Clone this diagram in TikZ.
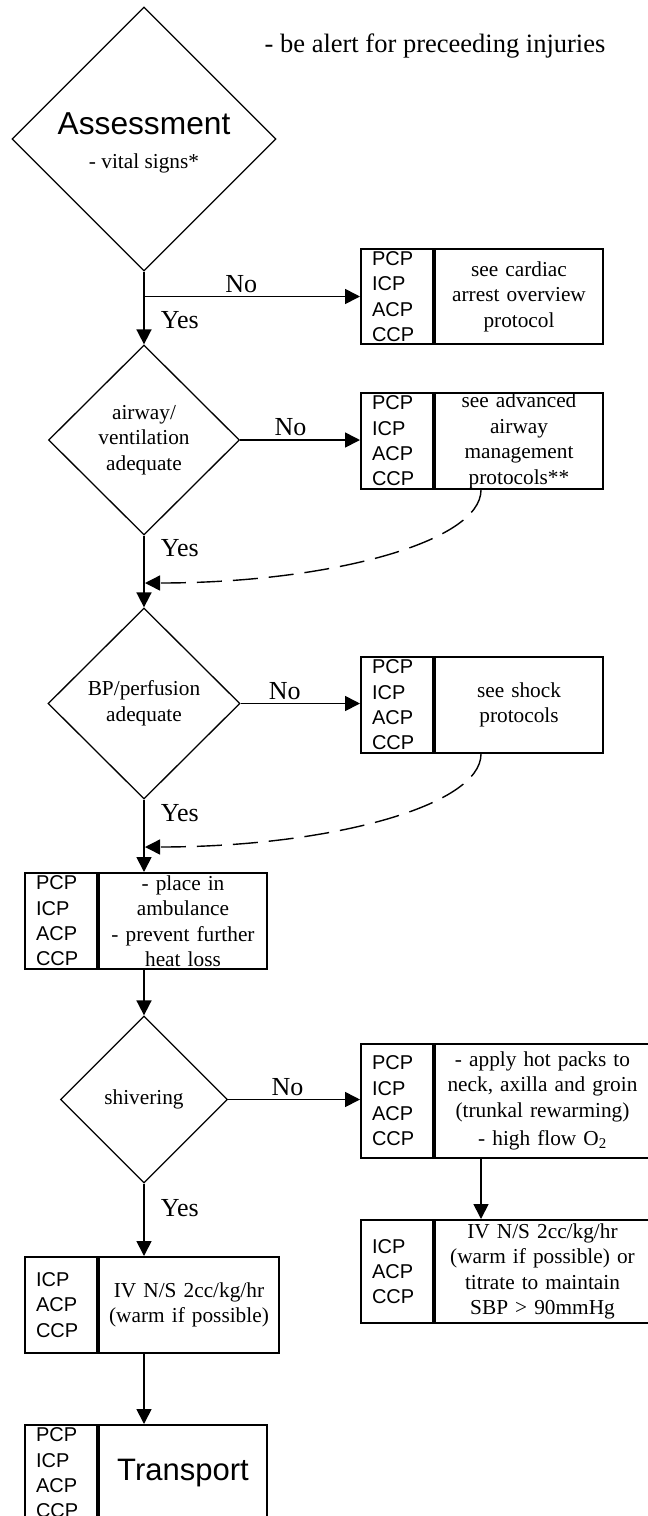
\documentclass[tikz,border=0pt]{standalone}
\usepackage{fontspec}
\setmainfont{Liberation Serif}
\newfontfamily\arialf{Liberation Sans}
\usetikzlibrary{shapes.geometric,arrows.meta}
\tikzset{
  dia/.style={diamond, draw, line width=1.3pt, inner sep=0pt, align=center, font=\fontsize{21.3}{25.5}\selectfont},
  rolebox/.style={draw, line width=2pt, anchor=north west, minimum width=72pt, text width=50pt, inner xsep=11pt, inner ysep=0pt, align=left, font=\arialf\fontsize{20}{25.3}\selectfont},
  txtbox/.style={draw, line width=2pt, anchor=north west, inner xsep=4pt, inner ysep=0pt, align=center, font=\fontsize{21.3}{25.5}\selectfont},
  flow/.style={line width=1.7pt, -{Triangle[length=15pt,width=15pt]}},
  backflow/.style={line width=1.4pt, dash pattern=on 25pt off 11pt, -{Triangle[length=15pt,width=15pt]}},
  lbl/.style={font=\fontsize{26}{30}\selectfont, inner sep=0pt},
}
\begin{document}
\begin{tikzpicture}[x=1pt,y=-1pt]
\path[use as bounding box, fill=white] (0,0) rectangle (648,1516);
\clip (0,0) rectangle (648,1516);

\node[font=\fontsize{26.5}{30}\selectfont] (note) at (435,46) {- be alert for preceeding injuries};

\node[dia, minimum width=264pt, minimum height=264pt] (d1) at (144,139)
  {\rule{0pt}{28.7pt}{\arialf\fontsize{31.7}{34}\selectfont Assessment}\\[8.5pt]- vital signs*};
\node[rolebox, minimum height=95pt] (cardL) at (360,248) {PCP\\ICP\\ACP\\CCP};
\node[txtbox, minimum width=168pt, text width=160pt, minimum height=95pt] (cardR) at (cardL.north east) {see cardiac\\arrest overview\\protocol};

\node[dia, minimum width=191pt, minimum height=190pt] (d2) at (144,440) {airway/\\ventilation\\adequate};
\node[rolebox, minimum height=96pt] (airL) at (360,392) {PCP\\ICP\\ACP\\CCP};
\node[txtbox, minimum width=168pt, text width=160pt, minimum height=96pt] (airR) at (airL.north east) {see advanced\\airway\\management\\protocols**};

\node[dia, minimum width=192pt, minimum height=191pt] (d3) at (144,703.5) {BP/perfusion\\adequate};
\node[rolebox, minimum height=96pt] (shockL) at (360,656) {PCP\\ICP\\ACP\\CCP};
\node[txtbox, minimum width=168pt, text width=160pt, minimum height=96pt] (shockR) at (shockL.north east) {see shock\\protocols};

\node[rolebox, minimum height=96pt] (ambL) at (24,872) {PCP\\ICP\\ACP\\CCP};
\node[txtbox, minimum width=168pt, text width=160pt, minimum height=96pt] (ambR) at (ambL.north east) {- place in\\ambulance\\- prevent further\\heat loss};

\node[dia, minimum width=167pt, minimum height=167pt] (d4) at (144,1099.5) {shivering};
\node[rolebox, minimum height=114pt] (hotL) at (360,1043) {PCP\\ICP\\ACP\\CCP};
\node[txtbox, minimum width=215pt, text width=207pt, minimum height=114pt] (hotR) at (hotL.north east) {- apply hot packs to\\neck, axilla and groin\\(trunkal rewarming)\\[3pt]- high flow O\textsubscript{2}};

\node[rolebox, minimum height=103pt] (ivRL) at (360,1219) {ICP\\ACP\\CCP};
\node[txtbox, minimum width=215pt, text width=207pt, minimum height=103pt] (ivRR) at (ivRL.north east) {IV N/S 2cc/kg/hr\\(warm if possible) or\\titrate to maintain\\SBP > 90mmHg};

\node[rolebox, minimum height=96pt] (ivLL) at (24,1256) {ICP\\ACP\\CCP};
\node[txtbox, minimum width=180pt, text width=172pt, minimum height=96pt] (ivLR) at (ivLL.north east) {IV N/S 2cc/kg/hr\\(warm if possible)};

\node[rolebox, minimum height=96pt] (trL) at (24,1424) {PCP\\ICP\\ACP\\CCP};
\node[txtbox, minimum width=168pt, text width=160pt, minimum height=96pt, font=\arialf\fontsize{31}{36}\selectfont] (trR) at (trL.north east) {Transport};

% connectors
\coordinate (j1) at (d1.south |- cardL.west);
\draw[flow] (d1.south) -- (d2.north) node[lbl, anchor=west, xshift=16pt, pos=0.66] {Yes};
\draw[flow] (j1) -- (j1 -| cardL.west) node[lbl, anchor=south, yshift=3pt, pos=0.45] {No};

\draw[flow] (d2.east) -- (d2.east -| airL.west) node[lbl, anchor=south, yshift=3pt, pos=0.42] {No};
\draw[flow] (d2.south) -- (d3.north) node[lbl, anchor=west, xshift=16pt, pos=0.18] {Yes};
\coordinate (m1) at (145,583);
\draw[backflow] ([xshift=47pt]airR.south west) .. controls +(0,52) and +(184,0) .. (m1);

\draw[flow] (d3.east) -- (d3.east -| shockL.west) node[lbl, anchor=south, yshift=3pt, pos=0.37] {No};
\draw[flow] (d3.south) -- (d3.south |- ambR.north) node[lbl, anchor=west, xshift=16pt, pos=0.19] {Yes};
\coordinate (m2) at (145,847);
\draw[backflow] ([xshift=47pt]shockR.south west) .. controls +(0,52) and +(184,0) .. (m2);

\draw[flow] (d4.north |- ambR.south) -- (d4.north);
\draw[flow] (d4.east) -- (d4.east -| hotL.west) node[lbl, anchor=south, yshift=3pt, pos=0.45] {No};
\draw[flow] ([xshift=47pt]hotR.south west) -- ([xshift=47pt]ivRR.north west);
\draw[flow] (d4.south) -- (d4.south |- ivLR.north) node[lbl, anchor=west, xshift=16pt, pos=0.34] {Yes};
\draw[flow] (d4.south |- ivLR.south) -- (d4.south |- trR.north);
\end{tikzpicture}
\end{document}
